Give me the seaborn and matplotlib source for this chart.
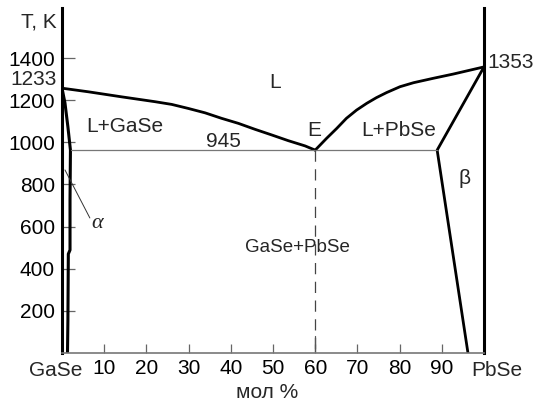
import matplotlib
matplotlib.use("Agg")
import matplotlib.pyplot as plt
import seaborn as sns
import pandas as pd

# ---- data (mol % PbSe, temperature K) ----
liq_left_x = [0, 6.2, 14.1, 22.0, 26.0, 29.9, 33.9, 37.8, 41.8, 45.7, 49.7, 53.6, 57.6, 60.0]
liq_left_t = [1257, 1240, 1216, 1193, 1180, 1161, 1140, 1114, 1090, 1062, 1035, 1008, 983, 963]

liq_right_x = [60.0, 62.7, 65.1, 67.4, 69.8, 72.2, 74.5, 76.9, 80.1, 83.3, 88.0, 92.7, 100.0]
liq_right_t = [963, 1019, 1066, 1114, 1153, 1185, 1212, 1236, 1264, 1283, 1304, 1324, 1358]

sol_right_x = [100.0, 88.9, 96.2]
sol_right_t = [1358, 963, 0]

solvus_left_x = [0, 0.7, 1.4, 2.0, 1.9, 1.9, 1.5, 1.4, 1.3]
solvus_left_t = [1257, 1187, 1073, 963, 726, 489, 470, 157, 0]

eut_x = [2.2, 88.9]
eut_t = [963, 963]

eut_comp = 60
eut_temp = 963

x_ticks = [10, 20, 30, 40, 50, 60, 70, 80, 90]
y_ticks = [200, 400, 600, 800, 1000, 1200, 1400]

sns.set_theme(style="white")
plt.rcParams['font.family'] = ['Liberation Sans', 'DejaVu Sans']

W, H = 534, 405
fig = plt.figure(figsize=(W / 100, H / 100), dpi=100)
# axes box: x 62..484 px, y 7.5..353 px
ax = fig.add_axes([62 / W, (H - 353) / H, 422 / W, 345.5 / H])
ax.set_xlim(0, 100)
ax.set_ylim(0, 1640)


def draw(xs, ts, lw, color="black", ls="-"):
    df = pd.DataFrame({"x": xs, "t": ts})
    sns.lineplot(data=df, x="x", y="t", sort=False, estimator=None, ax=ax,
                 color=color, lw=lw, linestyle=ls, solid_joinstyle="round")


draw(liq_left_x, liq_left_t, 2.0)
draw(liq_right_x, liq_right_t, 2.0)
draw(sol_right_x, sol_right_t, 2.0)
draw(solvus_left_x, solvus_left_t, 2.2)
draw(eut_x, eut_t, 0.9, color="#777777")
draw([eut_comp, eut_comp], [eut_temp, 0], 0.9, color="#444444", ls=(0, (9, 6)))
# alpha pointer
draw([0.7, 6.6], [869, 641], 0.7, color="#333333")

ax.set_xlabel("")
ax.set_ylabel("")

ax.spines["top"].set_visible(False)
ax.spines["left"].set_linewidth(2.2)
ax.spines["left"].set_color("black")
ax.spines["right"].set_linewidth(2.2)
ax.spines["right"].set_color("black")
ax.spines["bottom"].set_linewidth(1.2)
ax.spines["bottom"].set_color("#777777")

fs = 15
ax.set_xticks(x_ticks)
ax.set_xticklabels([str(v) for v in x_ticks])
ax.set_yticks(y_ticks)
ax.set_yticklabels([str(v) for v in y_ticks])
ax.tick_params(axis="x", direction="in", length=6.5, width=0.9, color="#666666",
               labelsize=fs, pad=4, labelcolor="black", bottom=True)
ax.tick_params(axis="y", direction="in", length=9, width=0.9, color="#666666",
               labelsize=fs, pad=5, labelcolor="black", left=True)
# longer tick at 60
ax.plot([eut_comp, eut_comp], [0, 80], color="#555555", lw=0.9)

ax.text(50.5, 1286, "L", ha="center", va="center", fontsize=fs)
ax.text(14.9, 1077, "L+GaSe", ha="center", va="center", fontsize=fs)
ax.text(38.2, 1006, "945", ha="center", va="center", fontsize=fs)
ax.text(59.7, 1058, "E", ha="center", va="center", fontsize=fs)
ax.text(79.9, 1058, "L+PbSe", ha="center", va="center", fontsize=fs)
ax.text(55.7, 503, "GaSe+PbSe", ha="center", va="center", fontsize=13.5)
ax.text(95.5, 830, "β", ha="center", va="center", fontsize=fs)
ax.text(8.3, 617, "α", ha="center", va="center", fontsize=fs + 1,
        family=["Liberation Serif", "DejaVu Serif"], style="italic")
ax.text(100.9, 1381, "1353", ha="left", va="center", fontsize=fs, clip_on=False)
ax.text(-1.2, 1296, "1233", ha="right", va="center", fontsize=fs, clip_on=False)
ax.text(-1.2, 1571, "T, K", ha="right", va="center", fontsize=fs, clip_on=False)

fig.text(56 / W, 1 - 370 / H, "GaSe", ha="center", va="center", fontsize=fs)
fig.text(497 / W, 1 - 370 / H, "PbSe", ha="center", va="center", fontsize=fs)
fig.text(267 / W, 1 - 393 / H, "мол %", ha="center", va="center", fontsize=fs)

fig.savefig("out.png", dpi=100)
